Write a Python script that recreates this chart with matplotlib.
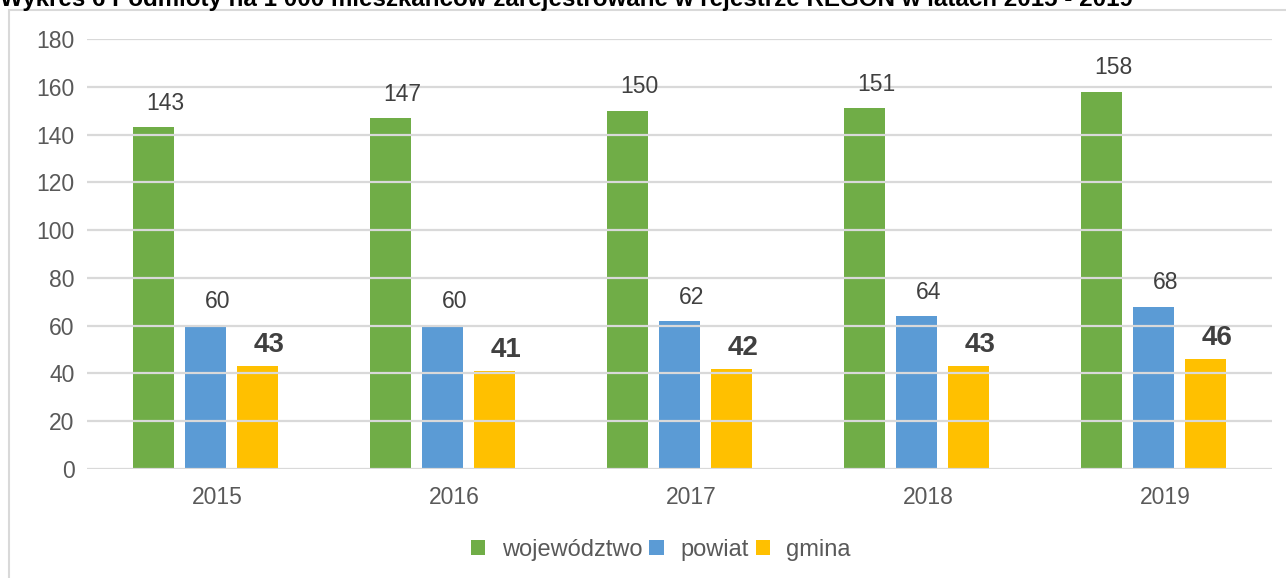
import numpy as np
import matplotlib.pyplot as plt
from matplotlib.patches import Rectangle
from matplotlib.transforms import ScaledTranslation

plt.rcParams['font.family'] = ['Liberation Sans', 'DejaVu Sans']

years = ['2015', '2016', '2017', '2018', '2019']
wojewodztwo = [143, 147, 150, 151, 158]
powiat = [60, 60, 62, 64, 68]
gmina = [43, 41, 42, 43, 46]
series_names = ['województwo', 'powiat', 'gmina']
colors = ['#70ad47', '#5b9bd5', '#ffc000']

title = 'Wykres 6 Podmioty na 1 000 mieszkańców zarejestrowane w rejestrze REGON w latach 2015 - 2019'

fig = plt.figure(figsize=(12.86, 5.78), dpi=100)
W, H = 1286, 578

# chart border (only top and left visible, the rest runs off the image)
fig.patches.append(Rectangle((9 / W, -0.1), 1.2, 1 - 10 / H + 0.1, transform=fig.transFigure,
                             fill=False, edgecolor='#d9d9d9', linewidth=1.5))
fig.text(0.0, 1 - 6 / H, title, fontsize=17.4, fontweight='bold', color='black', va='baseline')

ax = fig.add_axes([87 / W, 1 - 469 / H, (1272 - 87) / W, (469 - 39) / H])

# labels in the original sit ~12 px right of the bar centres
shift = ScaledTranslation(0.12, 0, fig.dpi_scale_trans)

x = np.arange(len(years))
width = 0.173
step = 0.219
gray = '#404040'
for i, (vals, name, c) in enumerate(zip([wojewodztwo, powiat, gmina], series_names, colors)):
    pos = x + (i - 1) * step
    ax.bar(pos, vals, width, color=c, label=name, zorder=2)
    for p, v in zip(pos, vals):
        if i == 2:
            t = ax.text(p, v + 5.9, str(v), ha='center', va='baseline', fontsize=20,
                        fontweight='bold', color=gray, zorder=5)
        else:
            t = ax.text(p, v + 7.2, str(v), ha='center', va='baseline', fontsize=16.5,
                        color=gray, zorder=5)
        t.set_transform(ax.transData + shift)

ax.set_ylim(0, 180)
ax.set_xlim(-0.5, len(years) - 0.5)
ax.set_yticks(range(0, 181, 20))
for yv in range(0, 181, 20):
    ax.axhline(yv, color='#d9d9d9', linewidth=1.6, zorder=3)
ax.set_xticks(x)
ax.set_xticklabels(years)
ax.tick_params(axis='both', length=0, labelsize=16.5, labelcolor='#595959')
ax.tick_params(axis='x', pad=12)
ax.tick_params(axis='y', pad=9)
for lab in ax.get_xticklabels():
    lab.set_transform(lab.get_transform() + shift)
for s in ax.spines.values():
    s.set_visible(False)

ax.legend(loc='center', bbox_to_anchor=((661 - 87) / (1272 - 87), -(550 - 469) / (469 - 39)),
          ncol=3, frameon=False, fontsize=17, handlelength=0.6, handleheight=0.6,
          columnspacing=0.3, handletextpad=0.7, labelcolor='#595959')

fig.savefig('out.png', dpi=100)
